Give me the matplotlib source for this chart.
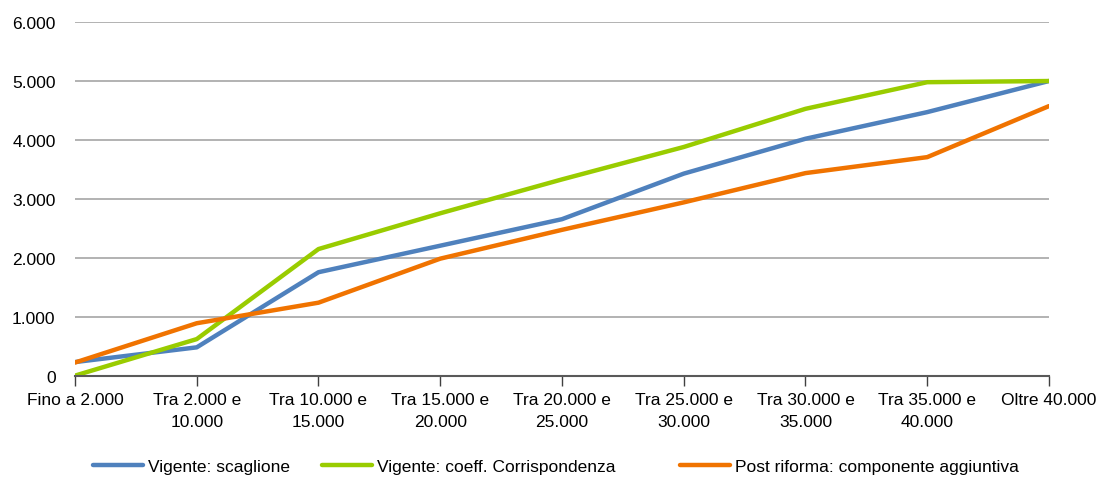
import matplotlib.pyplot as plt

plt.rcParams['font.family'] = ['Liberation Sans', 'DejaVu Sans']

# fasce di reddito
categorie = ['Fino a 2.000', 'Tra 2.000 e\n10.000', 'Tra 10.000 e\n15.000', 'Tra 15.000 e\n20.000',
             'Tra 20.000 e\n25.000', 'Tra 25.000 e\n30.000', 'Tra 30.000 e\n35.000',
             'Tra 35.000 e\n40.000', 'Oltre 40.000']

scaglione = [230, 480, 1755, 2205, 2655, 3428, 4020, 4472, 5000]
coeff_corrispondenza = [0, 620, 2148, 2755, 3330, 3880, 4528, 4980, 5000]
post_riforma = [222, 889, 1238, 1985, 2474, 2940, 3437, 3708, 4574]

fig = plt.figure(figsize=(11.03, 4.81), dpi=100)
ax = fig.add_axes([0.068, 0.217, 0.883, 0.735])

x = range(len(categorie))
l1, = ax.plot(x, scaglione, color='#4F81BD', lw=3.2, label='Vigente: scaglione',
              solid_capstyle='round')
l2, = ax.plot(x, coeff_corrispondenza, color='#99CC00', lw=3.2,
              label='Vigente: coeff. Corrispondenza', solid_capstyle='round')
l3, = ax.plot(x, post_riforma, color='#F07300', lw=3.2,
              label='Post riforma: componente aggiuntiva', solid_capstyle='round')

ax.set_xlim(0, len(categorie) - 1)
ax.set_ylim(0, 6000)
ax.set_yticks(range(0, 6001, 1000))
ax.set_yticklabels(['0', '1.000', '2.000', '3.000', '4.000', '5.000', '6.000'])
ax.set_xticks(list(x))
ax.set_xticklabels(categorie, linespacing=1.55)

ax.grid(axis='y', color='#A6A6A6', lw=1.2)
ax.set_axisbelow(True)
for s in ['top', 'right', 'left']:
    ax.spines[s].set_visible(False)
ax.spines['bottom'].set_color('#595959')
ax.spines['bottom'].set_linewidth(1.5)
ax.tick_params(axis='y', length=0, pad=14, labelsize=12.5)
ax.tick_params(axis='x', length=7, width=1, color='#404040', pad=5, labelsize=12.5)

# legenda in basso, una voce per blocco
for linea, x0 in [(l1, 93), (l2, 322), (l3, 680)]:
    fig.legend(handles=[linea], loc='center left', bbox_to_anchor=(x0 / 1103, 1 - 467 / 481),
               frameon=False, fontsize=12.5, handlelength=2.9, handletextpad=0.25,
               borderpad=0, borderaxespad=0)

plt.savefig('out.png', dpi=100)
